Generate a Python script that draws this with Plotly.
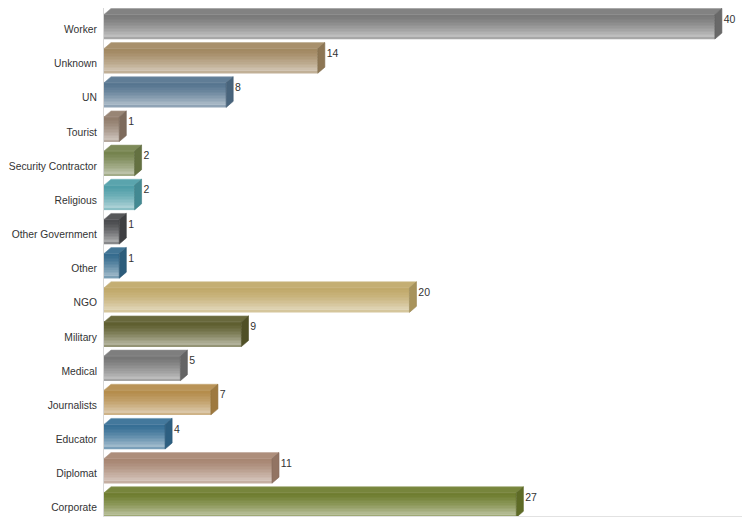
import plotly.graph_objects as go

# data, top to bottom as shown in the chart
categories = ["Worker", "Unknown", "UN", "Tourist", "Security Contractor", "Religious",
              "Other Government", "Other", "NGO", "Military", "Medical", "Journalists",
              "Educator", "Diplomat", "Corporate"]
values = [40, 14, 8, 1, 2, 2, 1, 1, 20, 9, 5, 7, 4, 11, 27]
bar_colors = ["#777777", "#a0865f", "#52728d", "#8f7a69", "#72804a", "#4c9ca6",
              "#47484b", "#32698c", "#bfa767", "#5b5b2b", "#737373", "#b38a48",
              "#336c93", "#a68470", "#6b7a2b"]


def hex2rgb(c):
    c = c.lstrip("#")
    return [int(c[i:i + 2], 16) for i in (0, 2, 4)]


def mix(c, other, t):
    a = hex2rgb(c)
    b = hex2rgb(other)
    return "rgb(%d,%d,%d)" % tuple(round(a[i] + (b[i] - a[i]) * t) for i in range(3))


pos = list(range(len(categories)))
half = 0.36    # half height of the front face (category units)
dx = 0.46      # 3d depth in value units
dy = 0.176     # 3d depth in category units

fig = go.Figure()

# front faces: stacked strips give the vertical gradient
n_strips = 16
w = 2 * half / n_strips
for k in range(n_strips):
    t = (k + 0.5) / n_strips
    cols = [mix(c, "#ffffff", 0.6 * t ** 1.4) for c in bar_colors]
    if k == n_strips - 1:
        cols = [mix(c, "#ffffff", 0.35) for c in bar_colors]
    fig.add_trace(go.Bar(
        orientation="h", x=values, y=pos,
        width=w * 1.15, offset=-half + k * w,
        marker=dict(color=cols, line=dict(width=0)),
        showlegend=False, hoverinfo="skip"))

# top and side faces of each bar
for v, c, col in zip(values, pos, bar_colors):
    top = c - half
    bot = c + half
    fig.add_trace(go.Scatter(
        x=[0, dx, v + dx, v, 0], y=[top, top - dy, top - dy, top, top],
        mode="lines", fill="toself", fillcolor=mix(col, "#ffffff", 0.08),
        line=dict(width=0.6, color=mix(col, "#ffffff", 0.25)),
        showlegend=False, hoverinfo="skip"))
    fig.add_trace(go.Scatter(
        x=[v, v + dx, v + dx, v, v], y=[top, top - dy, bot - dy, bot, top],
        mode="lines", fill="toself", fillcolor=mix(col, "#000000", 0.12),
        line=dict(width=0.6, color=mix(col, "#000000", 0.2)),
        showlegend=False, hoverinfo="skip"))

# value labels
fig.add_trace(go.Scatter(
    x=[v + dx + 0.12 for v in values], y=[c - 0.2 for c in pos],
    mode="text", text=[str(v) for v in values], textposition="middle right",
    textfont=dict(size=10.5, color="#333333"),
    showlegend=False, hoverinfo="skip"))

# the page body adds 8px on the left and top, so the figure is 8px smaller
fig.update_layout(
    width=742, height=515,
    margin=dict(l=96, r=0, t=0, b=7),
    paper_bgcolor="white", plot_bgcolor="white",
    barmode="overlay",
    font=dict(family="Arial, Liberation Sans, sans-serif", size=10.3, color="#333333"),
    xaxis=dict(range=[0, 42.3], showgrid=False, zeroline=False, showticklabels=False,
               showline=True, linecolor="#e2e2e2", linewidth=1, mirror=True, ticks="",
               automargin=False),
    yaxis=dict(range=[14.32, -0.549], tickvals=[p + 0.08 for p in pos], ticktext=categories,
               showgrid=False, zeroline=False, showline=True, linecolor="#d8d8d8",
               linewidth=1, ticks="", ticklabelstandoff=4, automargin=False),
)

fig.write_html("out.html")
